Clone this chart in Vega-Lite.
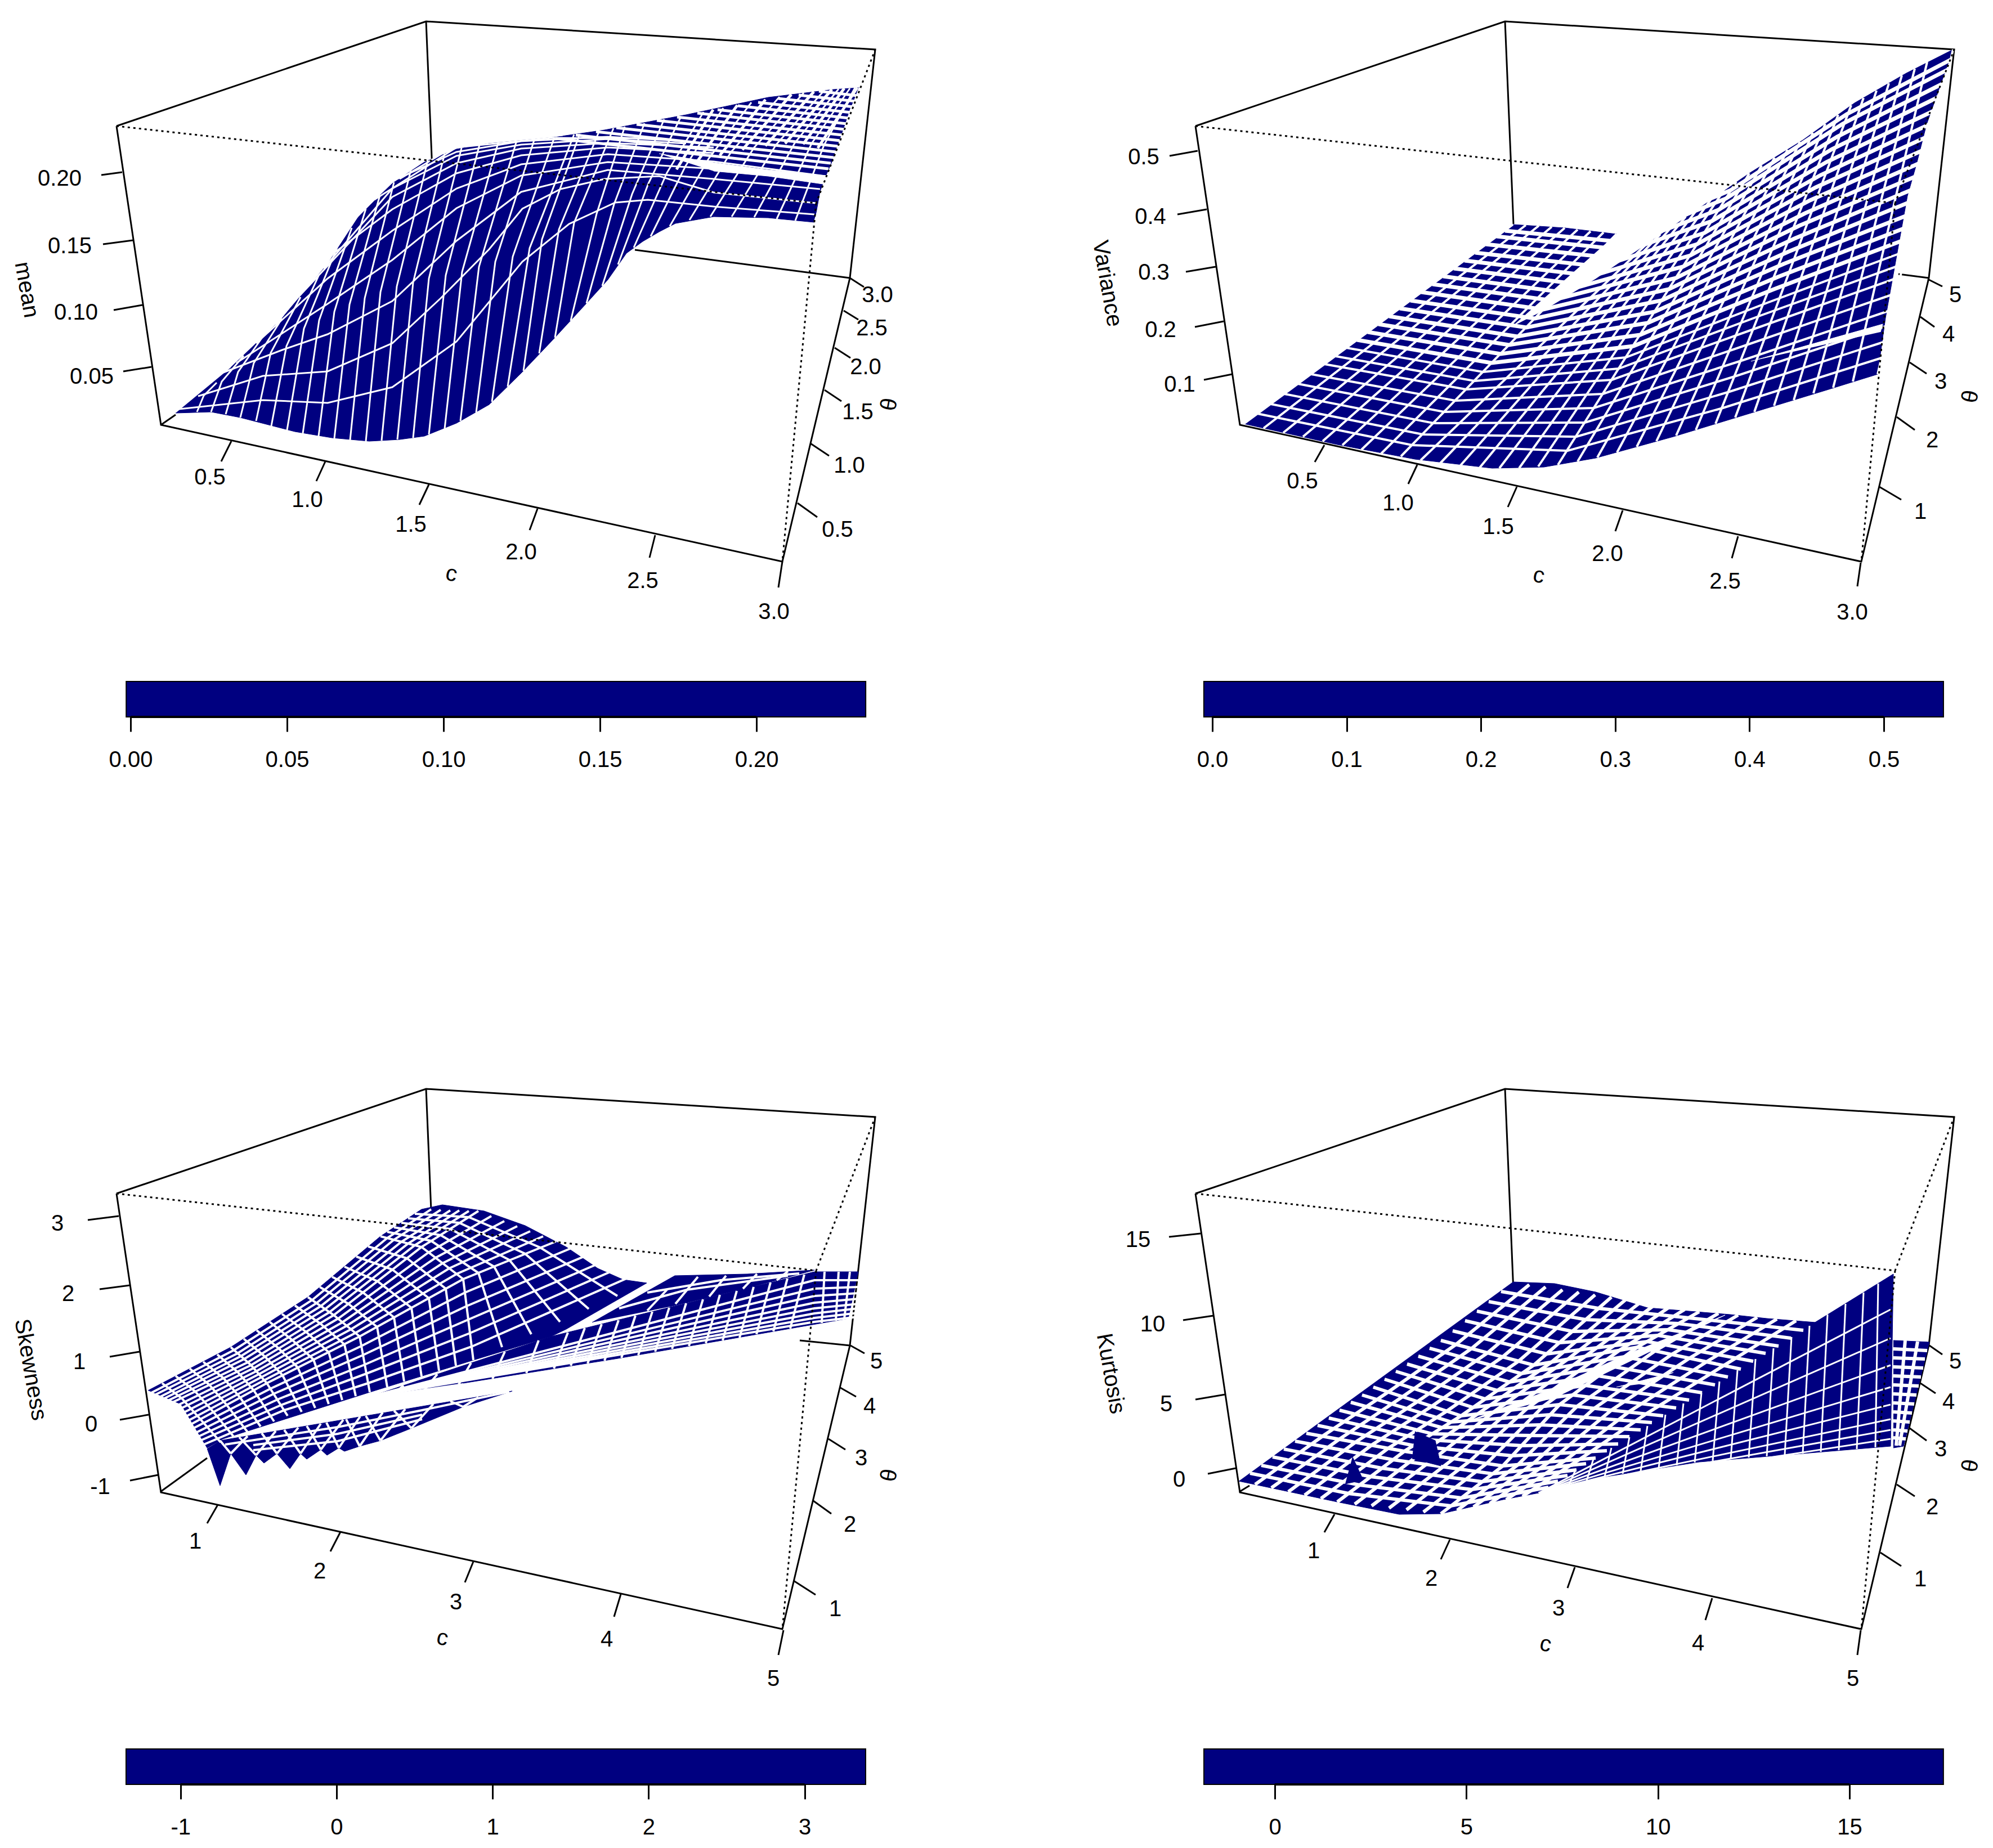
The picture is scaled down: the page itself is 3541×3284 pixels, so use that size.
{"$schema":"https://vega.github.io/schema/vega-lite/v6.json","padding":0,"background":"white","spacing":527,"config":{"view":{"stroke":null},"text":{"font":"Liberation Sans","fontSize":40,"color":"black"},"axis":{"labelFont":"Liberation Sans","labelFontSize":40,"labelColor":"black","domain":false,"grid":false,"tickColor":"black","tickWidth":3,"tickSize":26,"labelPadding":30,"title":null},"concat":{"spacing":0}},
"datasets":{
"box":[{"g":1,"x":207,"y":224},{"g":1,"x":757,"y":38},{"g":1,"x":1555,"y":88},{"g":1,"x":1510,"y":494},{"g":1,"x":1390,"y":998},{"g":1,"x":286,"y":755},{"g":1,"x":207,"y":224},{"g":2,"x":757,"y":38},{"g":2,"x":772,"y":398}],
"dot":[{"g":1,"x":207,"y":224},{"g":1,"x":1450,"y":361},{"g":1,"x":1555,"y":88},{"g":2,"x":1450,"y":361},{"g":2,"x":1390,"y":998}],
"s1":[{"g":1,"x":312,"y":734},{"g":1,"x":375,"y":732},{"g":1,"x":427,"y":742},{"g":1,"x":524,"y":767},{"g":1,"x":590,"y":778},{"g":1,"x":656,"y":784},{"g":1,"x":710,"y":781},{"g":1,"x":754,"y":775},{"g":1,"x":811,"y":752},{"g":1,"x":869,"y":719},{"g":1,"x":926,"y":663},{"g":1,"x":983,"y":603},{"g":1,"x":1041,"y":540},{"g":1,"x":1080,"y":497},{"g":1,"x":1113,"y":450},{"g":1,"x":1142,"y":429},{"g":1,"x":1171,"y":412},{"g":1,"x":1200,"y":397},{"g":1,"x":1268,"y":385},{"g":1,"x":1365,"y":387},{"g":1,"x":1447,"y":395},{"g":1,"x":1457,"y":340},{"g":1,"x":1467,"y":313},{"g":1,"x":1486,"y":269},{"g":1,"x":1510,"y":193},{"g":1,"x":1527,"y":156},{"g":1,"x":1481,"y":159},{"g":1,"x":1365,"y":173},{"g":1,"x":1219,"y":204},{"g":1,"x":1074,"y":231},{"g":1,"x":984,"y":244},{"g":1,"x":869,"y":255},{"g":1,"x":811,"y":265},{"g":1,"x":754,"y":288},{"g":1,"x":697,"y":326},{"g":1,"x":639,"y":382},{"g":1,"x":582,"y":469},{"g":1,"x":496,"y":571},{"g":1,"x":410,"y":653}],
"g1":[{"g":1,"x":1171,"y":273},{"g":1,"x":1268,"y":289},{"g":1,"x":1365,"y":302},{"g":1,"x":1476,"y":313},{"g":1,"x":1462,"y":327},{"g":1,"x":1365,"y":313},{"g":1,"x":1268,"y":304}],
"m1":[{"g":1,"x":350,"y":732},{"g":1,"x":362,"y":703},{"g":1,"x":385,"y":680},{"g":2,"x":375,"y":732},{"g":2,"x":394,"y":678},{"g":2,"x":433,"y":632},{"g":3,"x":401,"y":736},{"g":3,"x":423,"y":661},{"g":3,"x":467,"y":598},{"g":4,"x":427,"y":742},{"g":4,"x":451,"y":645},{"g":4,"x":501,"y":566},{"g":5,"x":455,"y":748},{"g":5,"x":481,"y":627},{"g":5,"x":534,"y":528},{"g":6,"x":482,"y":757},{"g":6,"x":509,"y":615},{"g":6,"x":566,"y":490},{"g":7,"x":510,"y":764},{"g":7,"x":540,"y":584},{"g":7,"x":600,"y":437},{"g":8,"x":538,"y":770},{"g":8,"x":567,"y":569},{"g":8,"x":625,"y":405},{"g":9,"x":566,"y":775},{"g":9,"x":594,"y":554},{"g":9,"x":650,"y":371},{"g":10,"x":594,"y":779},{"g":10,"x":621,"y":541},{"g":10,"x":675,"y":347},{"g":11,"x":622,"y":782},{"g":11,"x":648,"y":530},{"g":11,"x":700,"y":324},{"g":12,"x":650,"y":784},{"g":12,"x":676,"y":519},{"g":12,"x":730,"y":302},{"g":13,"x":678,"y":783},{"g":13,"x":705,"y":509},{"g":13,"x":760,"y":285},{"g":14,"x":706,"y":781},{"g":14,"x":734,"y":502},{"g":14,"x":790,"y":273},{"g":15,"x":734,"y":778},{"g":15,"x":762,"y":495},{"g":15,"x":820,"y":263},{"g":16,"x":762,"y":772},{"g":16,"x":792,"y":489},{"g":16,"x":852,"y":257},{"g":17,"x":790,"y":762},{"g":17,"x":821,"y":483},{"g":17,"x":885,"y":254},{"g":18,"x":818,"y":748},{"g":18,"x":851,"y":474},{"g":18,"x":918,"y":250},{"g":19,"x":846,"y":733},{"g":19,"x":880,"y":465},{"g":19,"x":950,"y":246},{"g":20,"x":874,"y":714},{"g":20,"x":911,"y":456},{"g":20,"x":985,"y":244},{"g":21,"x":902,"y":687},{"g":21,"x":941,"y":441},{"g":21,"x":1020,"y":239},{"g":22,"x":930,"y":659},{"g":22,"x":963,"y":425},{"g":22,"x":1030,"y":238},{"g":23,"x":958,"y":628},{"g":23,"x":993,"y":408},{"g":23,"x":1065,"y":232},{"g":24,"x":986,"y":600},{"g":24,"x":1020,"y":396},{"g":24,"x":1090,"y":228},{"g":25,"x":1014,"y":570},{"g":25,"x":1060,"y":380},{"g":25,"x":1110,"y":225},{"g":26,"x":1042,"y":539},{"g":26,"x":1091,"y":363},{"g":26,"x":1145,"y":219},{"g":27,"x":1070,"y":508},{"g":27,"x":1123,"y":345},{"g":27,"x":1180,"y":212},{"g":28,"x":1098,"y":470},{"g":28,"x":1152,"y":326},{"g":28,"x":1210,"y":207},{"g":29,"x":1126,"y":440},{"g":29,"x":1185,"y":307},{"g":29,"x":1250,"y":199},{"g":30,"x":1156,"y":420},{"g":30,"x":1218,"y":295},{"g":30,"x":1285,"y":192},{"g":31,"x":1190,"y":402},{"g":31,"x":1259,"y":282},{"g":31,"x":1335,"y":182},{"g":32,"x":1225,"y":391},{"g":32,"x":1299,"y":270},{"g":32,"x":1385,"y":172},{"g":33,"x":1262,"y":385},{"g":33,"x":1340,"y":262},{"g":33,"x":1428,"y":165},{"g":34,"x":1300,"y":385},{"g":34,"x":1379,"y":257},{"g":34,"x":1465,"y":160},{"g":35,"x":1340,"y":386},{"g":35,"x":1412,"y":254},{"g":35,"x":1490,"y":158},{"g":36,"x":1380,"y":389},{"g":36,"x":1442,"y":255},{"g":36,"x":1510,"y":157},{"g":37,"x":1413,"y":392},{"g":37,"x":1464,"y":258},{"g":37,"x":1519,"y":156},{"g":38,"x":1447,"y":395},{"g":38,"x":1486,"y":269},{"g":38,"x":1527,"y":156},
{"g":41,"x":1202,"y":301},{"g":41,"x":1267,"y":195},{"g":42,"x":1238,"y":288},{"g":42,"x":1310,"y":187},{"g":43,"x":1279,"y":276},{"g":43,"x":1360,"y":177},{"g":44,"x":1319,"y":266},{"g":44,"x":1406,"y":168},{"g":45,"x":1360,"y":259},{"g":45,"x":1446,"y":163},{"g":46,"x":1395,"y":255},{"g":46,"x":1478,"y":159},{"g":47,"x":1427,"y":256},{"g":47,"x":1500,"y":157},{"g":48,"x":1453,"y":263},{"g":48,"x":1523,"y":156},
{"g":51,"x":318,"y":727},{"g":51,"x":467,"y":711},{"g":51,"x":582,"y":716},{"g":51,"x":697,"y":688},{"g":51,"x":811,"y":607},{"g":51,"x":928,"y":465},{"g":51,"x":1011,"y":398},{"g":51,"x":1093,"y":360},{"g":51,"x":1151,"y":355},{"g":51,"x":1268,"y":367},{"g":51,"x":1447,"y":381},
{"g":52,"x":352,"y":704},{"g":52,"x":467,"y":668},{"g":52,"x":582,"y":660},{"g":52,"x":697,"y":610},{"g":52,"x":783,"y":530},{"g":52,"x":869,"y":443},{"g":52,"x":928,"y":371},{"g":52,"x":996,"y":336},{"g":52,"x":1074,"y":318},{"g":52,"x":1171,"y":313},{"g":52,"x":1268,"y":342},{"g":52,"x":1450,"y":361},
{"g":53,"x":381,"y":668},{"g":53,"x":501,"y":622},{"g":53,"x":582,"y":594},{"g":53,"x":697,"y":535},{"g":53,"x":811,"y":428},{"g":53,"x":926,"y":341},{"g":53,"x":1080,"y":302},{"g":53,"x":1268,"y":318},{"g":53,"x":1457,"y":336},
{"g":54,"x":420,"y":645},{"g":54,"x":582,"y":540},{"g":54,"x":697,"y":462},{"g":54,"x":811,"y":370},{"g":54,"x":926,"y":312},{"g":54,"x":1080,"y":288},{"g":54,"x":1268,"y":300},{"g":54,"x":1462,"y":322},
{"g":55,"x":455,"y":610},{"g":55,"x":582,"y":495},{"g":55,"x":697,"y":410},{"g":55,"x":811,"y":335},{"g":55,"x":926,"y":292},{"g":55,"x":1080,"y":274},{"g":55,"x":1268,"y":287},{"g":55,"x":1467,"y":313},
{"g":56,"x":490,"y":577},{"g":56,"x":582,"y":458},{"g":56,"x":697,"y":372},{"g":56,"x":811,"y":308},{"g":56,"x":926,"y":276},{"g":56,"x":1080,"y":262},{"g":56,"x":1268,"y":272},
{"g":57,"x":530,"y":528},{"g":57,"x":697,"y":350},{"g":57,"x":811,"y":290},{"g":57,"x":926,"y":264},{"g":57,"x":1080,"y":254},{"g":57,"x":1268,"y":262},
{"g":58,"x":575,"y":477},{"g":58,"x":697,"y":335},{"g":58,"x":811,"y":277},{"g":58,"x":926,"y":257},{"g":58,"x":1080,"y":247},{"g":58,"x":1219,"y":255},
{"g":59,"x":620,"y":400},{"g":59,"x":697,"y":322},{"g":59,"x":811,"y":270},{"g":59,"x":926,"y":251},{"g":59,"x":1080,"y":243},{"g":59,"x":1219,"y":251},
{"g":60,"x":665,"y":355},{"g":60,"x":811,"y":262},{"g":60,"x":980,"y":245},{"g":60,"x":1150,"y":246},
{"g":61,"x":710,"y":318},{"g":61,"x":811,"y":258},{"g":61,"x":1000,"y":240},
{"g":71,"x":987,"y":246},{"g":71,"x":1472,"y":300},{"g":72,"x":1023,"y":240},{"g":72,"x":1476,"y":290},{"g":73,"x":1059,"y":234},{"g":73,"x":1481,"y":280},{"g":74,"x":1095,"y":227},{"g":74,"x":1485,"y":270},{"g":75,"x":1131,"y":221},{"g":75,"x":1489,"y":260},{"g":76,"x":1167,"y":214},{"g":76,"x":1493,"y":250},{"g":77,"x":1203,"y":208},{"g":77,"x":1497,"y":240},{"g":78,"x":1239,"y":201},{"g":78,"x":1501,"y":230},{"g":79,"x":1275,"y":195},{"g":79,"x":1505,"y":220},{"g":80,"x":1311,"y":188},{"g":80,"x":1509,"y":210},{"g":81,"x":1347,"y":182},{"g":81,"x":1513,"y":200},{"g":82,"x":1383,"y":175},{"g":82,"x":1517,"y":190},{"g":83,"x":1419,"y":169},{"g":83,"x":1520,"y":180},{"g":84,"x":1455,"y":162},{"g":84,"x":1523,"y":170}],
"t1":[{"g":1,"x":286,"y":755},{"g":1,"x":312,"y":737},{"g":2,"x":1128,"y":444},{"g":2,"x":1510,"y":494},{"g":3,"x":217,"y":306},{"g":3,"x":180,"y":311},{"g":4,"x":236,"y":427},{"g":4,"x":183,"y":434},{"g":5,"x":253,"y":542},{"g":5,"x":202,"y":551},{"g":6,"x":269,"y":652},{"g":6,"x":219,"y":660},{"g":7,"x":411,"y":784},{"g":7,"x":393,"y":820},{"g":8,"x":578,"y":820},{"g":8,"x":562,"y":855},{"g":9,"x":762,"y":861},{"g":9,"x":745,"y":897},{"g":10,"x":955,"y":904},{"g":10,"x":941,"y":942},{"g":11,"x":1164,"y":951},{"g":11,"x":1154,"y":991},{"g":12,"x":1390,"y":998},{"g":12,"x":1383,"y":1044},{"g":13,"x":1510,"y":494},{"g":13,"x":1535,"y":510},{"g":14,"x":1499,"y":552},{"g":14,"x":1525,"y":568},{"g":15,"x":1483,"y":618},{"g":15,"x":1511,"y":636},{"g":16,"x":1465,"y":693},{"g":16,"x":1495,"y":713},{"g":17,"x":1440,"y":788},{"g":17,"x":1473,"y":810},{"g":18,"x":1417,"y":894},{"g":18,"x":1452,"y":919}],
"l1":[{"x":106,"y":318,"t":"0.20"},{"x":124,"y":438,"t":"0.15"},{"x":135,"y":556,"t":"0.10"},{"x":163,"y":670,"t":"0.05"},{"x":373,"y":849,"t":"0.5"},{"x":546,"y":889,"t":"1.0"},{"x":730,"y":933,"t":"1.5"},{"x":926,"y":982,"t":"2.0"},{"x":1142,"y":1033,"t":"2.5"},{"x":1375,"y":1088,"t":"3.0"},{"x":1559,"y":525,"t":"3.0"},{"x":1549,"y":584,"t":"2.5"},{"x":1538,"y":653,"t":"2.0"},{"x":1524,"y":733,"t":"1.5"},{"x":1509,"y":828,"t":"1.0"},{"x":1488,"y":942,"t":"0.5"}],
"n1":[{"x":47,"y":515,"t":"mean","a":80},{"x":802,"y":1020,"t":"c","a":12},{"x":1576,"y":718,"t":"θ","a":100}],
"s2":[{"g":1,"x":293,"y":753},{"g":1,"x":459,"y":790},{"g":1,"x":597,"y":816},{"g":1,"x":734,"y":832},{"g":1,"x":826,"y":830},{"g":1,"x":918,"y":814},{"g":1,"x":1056,"y":776},{"g":1,"x":1194,"y":734},{"g":1,"x":1332,"y":692},{"g":1,"x":1419,"y":665},{"g":1,"x":1433,"y":565},{"g":1,"x":1472,"y":348},{"g":1,"x":1488,"y":292},{"g":1,"x":1506,"y":221},{"g":1,"x":1553,"y":88},{"g":1,"x":1470,"y":130},{"g":1,"x":1378,"y":183},{"g":1,"x":1286,"y":249},{"g":1,"x":1194,"y":306},{"g":1,"x":1102,"y":369},{"g":1,"x":1010,"y":432},{"g":1,"x":955,"y":416},{"g":1,"x":863,"y":405},{"g":1,"x":771,"y":399}],
"g2":[{"g":1,"x":771,"y":579},{"g":1,"x":826,"y":551},{"g":1,"x":918,"y":495},{"g":1,"x":1010,"y":432},{"g":1,"x":1102,"y":369},{"g":1,"x":1168,"y":323},{"g":1,"x":1158,"y":325},{"g":1,"x":955,"y":416},{"g":2,"x":1194,"y":642},{"g":2,"x":1428,"y":576},{"g":2,"x":1424,"y":590}],
"m2":[{"g":1,"x":293,"y":753},{"g":1,"x":771,"y":399},{"g":2,"x":328,"y":761},{"g":2,"x":794,"y":400},{"g":3,"x":363,"y":769},{"g":3,"x":817,"y":401},{"g":4,"x":398,"y":776},{"g":4,"x":840,"y":403},{"g":5,"x":433,"y":784},{"g":5,"x":863,"y":405},{"g":6,"x":468,"y":791},{"g":6,"x":886,"y":408},{"g":7,"x":502,"y":799},{"g":7,"x":909,"y":411},{"g":8,"x":537,"y":806},{"g":8,"x":932,"y":413},{"g":9,"x":572,"y":811},{"g":9,"x":955,"y":416},{"g":10,"x":607,"y":818},{"g":10,"x":1010,"y":432},{"g":11,"x":642,"y":823},{"g":11,"x":1033,"y":416},{"g":12,"x":677,"y":828},{"g":12,"x":1055,"y":401},{"g":13,"x":712,"y":831},{"g":13,"x":1078,"y":385},{"g":14,"x":747,"y":832},{"g":14,"x":1100,"y":370},{"g":15,"x":782,"y":832},{"g":15,"x":1123,"y":354},{"g":16,"x":816,"y":829},{"g":16,"x":1146,"y":338},{"g":17,"x":851,"y":826},{"g":17,"x":1168,"y":323},{"g":18,"x":886,"y":820},{"g":18,"x":1191,"y":308},{"g":19,"x":921,"y":813},{"g":19,"x":1213,"y":294},{"g":20,"x":956,"y":804},{"g":20,"x":1236,"y":280},{"g":21,"x":991,"y":794},{"g":21,"x":1259,"y":266},{"g":22,"x":1026,"y":784},{"g":22,"x":1281,"y":252},{"g":23,"x":1061,"y":774},{"g":23,"x":1304,"y":236},{"g":24,"x":1096,"y":764},{"g":24,"x":1326,"y":220},{"g":25,"x":1131,"y":753},{"g":25,"x":1349,"y":204},{"g":26,"x":1166,"y":742},{"g":26,"x":1372,"y":187},{"g":27,"x":1200,"y":732},{"g":27,"x":1394,"y":174},{"g":28,"x":1235,"y":721},{"g":28,"x":1417,"y":161},{"g":29,"x":1270,"y":711},{"g":29,"x":1439,"y":148},{"g":30,"x":1305,"y":699},{"g":30,"x":1462,"y":134},{"g":31,"x":1340,"y":689},{"g":31,"x":1485,"y":122},{"g":32,"x":1375,"y":678},{"g":32,"x":1507,"y":110},{"g":33,"x":1419,"y":665},{"g":33,"x":1553,"y":88},
{"g":101,"x":317,"y":735},{"g":101,"x":592,"y":791},{"g":101,"x":868,"y":801},{"g":101,"x":1144,"y":725},{"g":101,"x":1426,"y":636},{"g":102,"x":341,"y":718},{"g":102,"x":611,"y":772},{"g":102,"x":884,"y":776},{"g":102,"x":1156,"y":696},{"g":102,"x":1432,"y":607},{"g":103,"x":365,"y":700},{"g":103,"x":630,"y":752},{"g":103,"x":899,"y":751},{"g":103,"x":1168,"y":668},{"g":103,"x":1439,"y":578},{"g":104,"x":389,"y":682},{"g":104,"x":649,"y":732},{"g":104,"x":915,"y":725},{"g":104,"x":1180,"y":640},{"g":104,"x":1446,"y":550},{"g":105,"x":413,"y":665},{"g":105,"x":669,"y":712},{"g":105,"x":931,"y":700},{"g":105,"x":1192,"y":611},{"g":105,"x":1452,"y":521},{"g":106,"x":436,"y":647},{"g":106,"x":688,"y":692},{"g":106,"x":947,"y":675},{"g":106,"x":1204,"y":583},{"g":106,"x":1459,"y":492},{"g":107,"x":456,"y":633},{"g":107,"x":703,"y":677},{"g":107,"x":959,"y":655},{"g":107,"x":1213,"y":560},{"g":107,"x":1465,"y":469},{"g":108,"x":475,"y":618},{"g":108,"x":718,"y":661},{"g":108,"x":972,"y":635},{"g":108,"x":1223,"y":538},{"g":108,"x":1470,"y":446},{"g":109,"x":494,"y":604},{"g":109,"x":733,"y":645},{"g":109,"x":985,"y":615},{"g":109,"x":1232,"y":515},{"g":109,"x":1475,"y":423},{"g":110,"x":513,"y":590},{"g":110,"x":749,"y":629},{"g":110,"x":997,"y":595},{"g":110,"x":1242,"y":492},{"g":110,"x":1481,"y":400},{"g":111,"x":532,"y":576},{"g":111,"x":764,"y":613},{"g":111,"x":1010,"y":574},{"g":111,"x":1252,"y":469},{"g":111,"x":1486,"y":377},{"g":112,"x":551,"y":562},{"g":112,"x":779,"y":598},{"g":112,"x":1023,"y":554},{"g":112,"x":1261,"y":447},{"g":112,"x":1491,"y":353},{"g":113,"x":570,"y":548},{"g":113,"x":795,"y":582},{"g":113,"x":1035,"y":534},{"g":113,"x":1271,"y":424},{"g":113,"x":1497,"y":330},{"g":114,"x":589,"y":534},{"g":114,"x":810,"y":566},{"g":114,"x":1048,"y":514},{"g":114,"x":1280,"y":401},{"g":114,"x":1502,"y":307},{"g":115,"x":608,"y":519},{"g":115,"x":825,"y":550},{"g":115,"x":1061,"y":494},{"g":115,"x":1290,"y":379},{"g":115,"x":1507,"y":284},{"g":116,"x":628,"y":505},{"g":116,"x":840,"y":534},{"g":116,"x":1073,"y":474},{"g":116,"x":1299,"y":356},{"g":116,"x":1513,"y":261},{"g":117,"x":647,"y":491},{"g":117,"x":856,"y":519},{"g":117,"x":1086,"y":454},{"g":117,"x":1309,"y":333},{"g":117,"x":1518,"y":238},{"g":118,"x":666,"y":477},{"g":118,"x":871,"y":503},{"g":118,"x":1098,"y":434},{"g":118,"x":1318,"y":311},{"g":118,"x":1524,"y":215},{"g":119,"x":685,"y":463},{"g":119,"x":886,"y":487},{"g":119,"x":1111,"y":414},{"g":119,"x":1328,"y":288},{"g":119,"x":1529,"y":192},{"g":120,"x":704,"y":449},{"g":120,"x":901,"y":471},{"g":120,"x":1124,"y":393},{"g":120,"x":1338,"y":265},{"g":120,"x":1534,"y":169},{"g":121,"x":723,"y":434},{"g":121,"x":917,"y":455},{"g":121,"x":1136,"y":373},{"g":121,"x":1347,"y":243},{"g":121,"x":1540,"y":146},{"g":122,"x":742,"y":420},{"g":122,"x":932,"y":440},{"g":122,"x":1149,"y":353},{"g":122,"x":1357,"y":220},{"g":122,"x":1545,"y":123},{"g":123,"x":757,"y":410},{"g":123,"x":944,"y":428},{"g":123,"x":1158,"y":338},{"g":123,"x":1364,"y":203},{"g":123,"x":1549,"y":106}],
"t2":[{"g":1,"x":1456,"y":487},{"g":1,"x":1510,"y":494},{"g":2,"x":211,"y":268},{"g":2,"x":161,"y":277},{"g":3,"x":227,"y":372},{"g":3,"x":175,"y":381},{"g":4,"x":243,"y":474},{"g":4,"x":190,"y":483},{"g":5,"x":257,"y":571},{"g":5,"x":206,"y":581},{"g":6,"x":272,"y":665},{"g":6,"x":222,"y":675},{"g":7,"x":436,"y":791},{"g":7,"x":419,"y":821},{"g":8,"x":601,"y":826},{"g":8,"x":585,"y":860},{"g":9,"x":778,"y":865},{"g":9,"x":762,"y":901},{"g":10,"x":966,"y":907},{"g":10,"x":953,"y":944},{"g":11,"x":1171,"y":953},{"g":11,"x":1160,"y":992},{"g":12,"x":1389,"y":1000},{"g":12,"x":1383,"y":1042},{"g":13,"x":1508,"y":496},{"g":13,"x":1534,"y":509},{"g":14,"x":1495,"y":563},{"g":14,"x":1520,"y":581},{"g":15,"x":1476,"y":644},{"g":15,"x":1506,"y":664},{"g":16,"x":1453,"y":741},{"g":16,"x":1485,"y":764},{"g":17,"x":1422,"y":865},{"g":17,"x":1461,"y":888}],
"l2":[{"x":115,"y":280,"t":"0.5"},{"x":127,"y":386,"t":"0.4"},{"x":133,"y":485,"t":"0.3"},{"x":145,"y":587,"t":"0.2"},{"x":179,"y":684,"t":"0.1"},{"x":397,"y":856,"t":"0.5"},{"x":567,"y":895,"t":"1.0"},{"x":745,"y":937,"t":"1.5"},{"x":939,"y":985,"t":"2.0"},{"x":1148,"y":1034,"t":"2.5"},{"x":1374,"y":1089,"t":"3.0"},{"x":1557,"y":525,"t":"5"},{"x":1545,"y":595,"t":"4"},{"x":1531,"y":679,"t":"3"},{"x":1516,"y":783,"t":"2"},{"x":1495,"y":910,"t":"1"}],
"n2":[{"x":50,"y":504,"t":"Variance","a":80},{"x":817,"y":1023,"t":"c","a":12},{"x":1580,"y":704,"t":"θ","a":100}],
"s3":[{"g":1,"x":263,"y":574},{"g":1,"x":410,"y":497},{"g":1,"x":547,"y":408},{"g":1,"x":676,"y":300},{"g":1,"x":749,"y":252},{"g":1,"x":786,"y":244},{"g":1,"x":860,"y":255},{"g":1,"x":933,"y":281},{"g":1,"x":1006,"y":319},{"g":1,"x":1062,"y":357},{"g":1,"x":1107,"y":377},{"g":1,"x":1149,"y":383},{"g":1,"x":1006,"y":465},{"g":1,"x":979,"y":478},{"g":1,"x":841,"y":520},{"g":1,"x":657,"y":577},{"g":1,"x":396,"y":660},{"g":1,"x":368,"y":676},{"g":1,"x":322,"y":599},
{"g":2,"x":368,"y":677},{"g":2,"x":391,"y":743},{"g":2,"x":410,"y":686},{"g":2,"x":437,"y":724},{"g":2,"x":455,"y":689},{"g":2,"x":469,"y":703},{"g":2,"x":492,"y":686},{"g":2,"x":515,"y":713},{"g":2,"x":534,"y":686},{"g":2,"x":545,"y":696},{"g":2,"x":570,"y":679},{"g":2,"x":581,"y":689},{"g":2,"x":602,"y":676},{"g":2,"x":612,"y":682},{"g":2,"x":639,"y":673},{"g":2,"x":676,"y":663},{"g":2,"x":731,"y":641},{"g":2,"x":823,"y":603},{"g":2,"x":910,"y":575},{"g":2,"x":391,"y":663},
{"g":3,"x":657,"y":585},{"g":3,"x":979,"y":478},{"g":3,"x":1447,"y":363},{"g":3,"x":1525,"y":363},{"g":3,"x":1507,"y":446},{"g":3,"x":1438,"y":458},{"g":3,"x":1098,"y":517},{"g":3,"x":823,"y":561},
{"g":4,"x":1052,"y":453},{"g":4,"x":1098,"y":427},{"g":4,"x":1199,"y":370},{"g":4,"x":1328,"y":367},{"g":4,"x":1447,"y":360},{"g":4,"x":1328,"y":392},{"g":4,"x":1190,"y":425}],
"m3":[{"g":1,"x":288,"y":561},{"g":1,"x":323,"y":588},{"g":1,"x":356,"y":625},{"g":1,"x":392,"y":666},{"g":2,"x":312,"y":548},{"g":2,"x":347,"y":576},{"g":2,"x":379,"y":612},{"g":2,"x":416,"y":657},{"g":3,"x":337,"y":535},{"g":3,"x":372,"y":564},{"g":3,"x":403,"y":600},{"g":3,"x":440,"y":648},{"g":4,"x":361,"y":523},{"g":4,"x":397,"y":552},{"g":4,"x":427,"y":587},{"g":4,"x":463,"y":638},{"g":5,"x":386,"y":510},{"g":5,"x":422,"y":541},{"g":5,"x":451,"y":574},{"g":5,"x":487,"y":629},{"g":6,"x":410,"y":497},{"g":6,"x":446,"y":529},{"g":6,"x":474,"y":561},{"g":6,"x":511,"y":619},{"g":7,"x":433,"y":482},{"g":7,"x":471,"y":514},{"g":7,"x":502,"y":547},{"g":7,"x":536,"y":612},{"g":8,"x":456,"y":467},{"g":8,"x":495,"y":499},{"g":8,"x":529,"y":533},{"g":8,"x":560,"y":605},{"g":9,"x":479,"y":452},{"g":9,"x":520,"y":485},{"g":9,"x":557,"y":519},{"g":9,"x":584,"y":598},{"g":10,"x":501,"y":438},{"g":10,"x":544,"y":470},{"g":10,"x":584,"y":506},{"g":10,"x":608,"y":591},{"g":11,"x":524,"y":423},{"g":11,"x":569,"y":455},{"g":11,"x":612,"y":492},{"g":11,"x":632,"y":584},{"g":12,"x":547,"y":408},{"g":12,"x":593,"y":440},{"g":12,"x":639,"y":478},{"g":12,"x":657,"y":577},{"g":13,"x":568,"y":390},{"g":13,"x":619,"y":420},{"g":13,"x":670,"y":461},{"g":13,"x":688,"y":568},{"g":14,"x":590,"y":372},{"g":14,"x":645,"y":400},{"g":14,"x":700,"y":444},{"g":14,"x":718,"y":558},{"g":15,"x":612,"y":354},{"g":15,"x":671,"y":380},{"g":15,"x":731,"y":427},{"g":15,"x":749,"y":549},{"g":16,"x":633,"y":336},{"g":16,"x":697,"y":359},{"g":16,"x":762,"y":410},{"g":16,"x":780,"y":539},{"g":17,"x":654,"y":318},{"g":17,"x":723,"y":339},{"g":17,"x":792,"y":393},{"g":17,"x":810,"y":530},{"g":18,"x":676,"y":300},{"g":18,"x":749,"y":319},{"g":18,"x":823,"y":376},{"g":18,"x":841,"y":520},{"g":19,"x":688,"y":292},{"g":19,"x":766,"y":308},{"g":19,"x":850,"y":365},{"g":19,"x":892,"y":497},{"g":20,"x":700,"y":284},{"g":20,"x":783,"y":298},{"g":20,"x":878,"y":354},{"g":20,"x":944,"y":474},{"g":21,"x":713,"y":276},{"g":21,"x":800,"y":287},{"g":21,"x":905,"y":342},{"g":21,"x":995,"y":452},{"g":22,"x":725,"y":268},{"g":22,"x":816,"y":276},{"g":22,"x":933,"y":331},{"g":22,"x":1046,"y":429},{"g":23,"x":737,"y":260},{"g":23,"x":833,"y":266},{"g":23,"x":960,"y":320},{"g":23,"x":1097,"y":406},
{"g":31,"x":269,"y":578},{"g":31,"x":416,"y":502},{"g":31,"x":555,"y":413},{"g":31,"x":688,"y":303},{"g":31,"x":766,"y":252},{"g":32,"x":275,"y":582},{"g":32,"x":422,"y":508},{"g":32,"x":562,"y":419},{"g":32,"x":700,"y":306},{"g":32,"x":783,"y":253},{"g":33,"x":281,"y":587},{"g":33,"x":428,"y":513},{"g":33,"x":570,"y":424},{"g":33,"x":713,"y":310},{"g":33,"x":800,"y":254},{"g":34,"x":286,"y":591},{"g":34,"x":434,"y":518},{"g":34,"x":578,"y":429},{"g":34,"x":725,"y":313},{"g":34,"x":816,"y":254},{"g":35,"x":292,"y":595},{"g":35,"x":440,"y":524},{"g":35,"x":585,"y":435},{"g":35,"x":737,"y":316},{"g":35,"x":833,"y":255},{"g":36,"x":298,"y":599},{"g":36,"x":446,"y":529},{"g":36,"x":593,"y":440},{"g":36,"x":749,"y":319},{"g":36,"x":850,"y":255},{"g":37,"x":304,"y":606},{"g":37,"x":451,"y":534},{"g":37,"x":601,"y":446},{"g":37,"x":761,"y":329},{"g":37,"x":873,"y":264},{"g":38,"x":309,"y":612},{"g":38,"x":455,"y":540},{"g":38,"x":608,"y":453},{"g":38,"x":774,"y":338},{"g":38,"x":896,"y":273},{"g":39,"x":315,"y":619},{"g":39,"x":460,"y":545},{"g":39,"x":616,"y":459},{"g":39,"x":786,"y":348},{"g":39,"x":919,"y":282},{"g":40,"x":321,"y":625},{"g":40,"x":465,"y":550},{"g":40,"x":624,"y":465},{"g":40,"x":798,"y":357},{"g":40,"x":942,"y":291},{"g":41,"x":326,"y":632},{"g":41,"x":469,"y":556},{"g":41,"x":631,"y":472},{"g":41,"x":811,"y":367},{"g":41,"x":965,"y":300},{"g":42,"x":332,"y":638},{"g":42,"x":474,"y":561},{"g":42,"x":639,"y":478},{"g":42,"x":823,"y":376},{"g":42,"x":988,"y":309},{"g":43,"x":338,"y":644},{"g":43,"x":480,"y":571},{"g":43,"x":642,"y":495},{"g":43,"x":826,"y":400},{"g":43,"x":1015,"y":321},{"g":44,"x":344,"y":651},{"g":44,"x":486,"y":580},{"g":44,"x":645,"y":511},{"g":44,"x":829,"y":424},{"g":44,"x":1042,"y":334},{"g":45,"x":350,"y":657},{"g":45,"x":493,"y":590},{"g":45,"x":648,"y":528},{"g":45,"x":832,"y":448},{"g":45,"x":1069,"y":346},{"g":46,"x":356,"y":663},{"g":46,"x":499,"y":600},{"g":46,"x":651,"y":544},{"g":46,"x":835,"y":472},{"g":46,"x":1096,"y":358},{"g":47,"x":362,"y":670},{"g":47,"x":505,"y":609},{"g":47,"x":654,"y":561},{"g":47,"x":838,"y":496},{"g":47,"x":1122,"y":371},
{"g":51,"x":400,"y":670},{"g":51,"x":600,"y":639},{"g":51,"x":750,"y":609},{"g":51,"x":905,"y":576},{"g":52,"x":450,"y":671},{"g":52,"x":600,"y":651},{"g":52,"x":750,"y":617},{"g":53,"x":450,"y":680},{"g":53,"x":600,"y":664},{"g":53,"x":750,"y":625},
{"g":61,"x":410,"y":686},{"g":61,"x":440,"y":655},{"g":62,"x":455,"y":689},{"g":62,"x":490,"y":646},{"g":63,"x":492,"y":686},{"g":63,"x":530,"y":640},{"g":64,"x":534,"y":686},{"g":64,"x":570,"y":633},{"g":65,"x":570,"y":679},{"g":65,"x":610,"y":626},{"g":66,"x":602,"y":676},{"g":66,"x":640,"y":620},{"g":67,"x":639,"y":673},{"g":67,"x":680,"y":613},{"g":68,"x":676,"y":663},{"g":68,"x":720,"y":607},{"g":69,"x":731,"y":641},{"g":69,"x":770,"y":598},{"g":70,"x":823,"y":603},{"g":70,"x":850,"y":586},{"g":71,"x":410,"y":686},{"g":71,"x":391,"y":663},{"g":72,"x":455,"y":689},{"g":72,"x":425,"y":657},{"g":73,"x":492,"y":686},{"g":73,"x":465,"y":650},{"g":74,"x":534,"y":686},{"g":74,"x":505,"y":644},{"g":75,"x":570,"y":679},{"g":75,"x":545,"y":637},{"g":76,"x":602,"y":676},{"g":76,"x":580,"y":631},{"g":77,"x":639,"y":673},{"g":77,"x":615,"y":625},{"g":78,"x":676,"y":663},{"g":78,"x":650,"y":619},{"g":79,"x":731,"y":641},{"g":79,"x":700,"y":610},{"g":80,"x":823,"y":603},{"g":80,"x":800,"y":593},
{"g":81,"x":657,"y":585},{"g":81,"x":1447,"y":378},{"g":81,"x":1525,"y":378},{"g":82,"x":657,"y":585},{"g":82,"x":1447,"y":393},{"g":82,"x":1525,"y":390},{"g":83,"x":657,"y":585},{"g":83,"x":1447,"y":406},{"g":83,"x":1525,"y":401},{"g":84,"x":657,"y":585},{"g":84,"x":1447,"y":418},{"g":84,"x":1525,"y":411},{"g":85,"x":657,"y":585},{"g":85,"x":1447,"y":428},{"g":85,"x":1525,"y":420},{"g":86,"x":657,"y":585},{"g":86,"x":1447,"y":437},{"g":86,"x":1525,"y":428},{"g":87,"x":657,"y":585},{"g":87,"x":1447,"y":445},{"g":87,"x":1525,"y":436},{"g":88,"x":657,"y":585},{"g":88,"x":1447,"y":452},{"g":88,"x":1525,"y":443},
{"g":91,"x":1009,"y":471},{"g":91,"x":984,"y":535},{"g":92,"x":1039,"y":463},{"g":92,"x":1014,"y":530},{"g":93,"x":1069,"y":456},{"g":93,"x":1044,"y":526},{"g":94,"x":1099,"y":449},{"g":94,"x":1074,"y":521},{"g":95,"x":1129,"y":441},{"g":95,"x":1104,"y":516},{"g":96,"x":1159,"y":434},{"g":96,"x":1134,"y":511},{"g":97,"x":1189,"y":427},{"g":97,"x":1164,"y":505},{"g":98,"x":1219,"y":419},{"g":98,"x":1194,"y":500},{"g":99,"x":1249,"y":412},{"g":99,"x":1224,"y":495},{"g":100,"x":1279,"y":404},{"g":100,"x":1254,"y":490},{"g":101,"x":1309,"y":397},{"g":101,"x":1284,"y":485},{"g":102,"x":1339,"y":390},{"g":102,"x":1314,"y":480},{"g":103,"x":1369,"y":382},{"g":103,"x":1344,"y":474},{"g":104,"x":1399,"y":375},{"g":104,"x":1374,"y":469},{"g":105,"x":1429,"y":368},{"g":105,"x":1404,"y":464},{"g":106,"x":717,"y":565},{"g":106,"x":700,"y":580},{"g":107,"x":777,"y":545},{"g":107,"x":755,"y":572},{"g":108,"x":837,"y":525},{"g":108,"x":815,"y":563},{"g":109,"x":897,"y":505},{"g":109,"x":875,"y":553},{"g":110,"x":957,"y":485},{"g":110,"x":935,"y":543},{"g":111,"x":1465,"y":363},{"g":111,"x":1460,"y":454},{"g":112,"x":1490,"y":363},{"g":112,"x":1485,"y":450},{"g":113,"x":1510,"y":363},{"g":113,"x":1500,"y":447},
{"g":121,"x":1100,"y":428},{"g":121,"x":1220,"y":395},{"g":121,"x":1400,"y":370},{"g":122,"x":1150,"y":400},{"g":122,"x":1280,"y":378},{"g":122,"x":1420,"y":366},{"g":123,"x":1150,"y":432},{"g":123,"x":1185,"y":395},{"g":124,"x":1200,"y":420},{"g":124,"x":1240,"y":372},{"g":125,"x":1260,"y":407},{"g":125,"x":1290,"y":370},{"g":126,"x":1320,"y":393},{"g":126,"x":1345,"y":367},{"g":127,"x":1380,"y":378},{"g":127,"x":1400,"y":362}],
"t3":[{"g":1,"x":285,"y":754},{"g":1,"x":368,"y":694},{"g":2,"x":1421,"y":485},{"g":2,"x":1510,"y":494},{"g":3,"x":211,"y":264},{"g":3,"x":156,"y":271},{"g":4,"x":231,"y":387},{"g":4,"x":177,"y":394},{"g":5,"x":248,"y":505},{"g":5,"x":195,"y":514},{"g":6,"x":264,"y":617},{"g":6,"x":213,"y":626},{"g":7,"x":281,"y":724},{"g":7,"x":231,"y":734},{"g":8,"x":387,"y":777},{"g":8,"x":368,"y":810},{"g":9,"x":605,"y":825},{"g":9,"x":587,"y":860},{"g":10,"x":841,"y":878},{"g":10,"x":826,"y":915},{"g":11,"x":1103,"y":936},{"g":11,"x":1091,"y":976},{"g":12,"x":1392,"y":1000},{"g":12,"x":1383,"y":1044},{"g":13,"x":1511,"y":494},{"g":13,"x":1536,"y":508},{"g":14,"x":1493,"y":569},{"g":14,"x":1521,"y":585},{"g":15,"x":1472,"y":660},{"g":15,"x":1502,"y":679},{"g":16,"x":1445,"y":770},{"g":16,"x":1477,"y":793},{"g":17,"x":1410,"y":912},{"g":17,"x":1449,"y":937}],
"l3":[{"x":102,"y":278,"t":"3"},{"x":121,"y":403,"t":"2"},{"x":141,"y":524,"t":"1"},{"x":162,"y":635,"t":"0"},{"x":178,"y":746,"t":"-1"},{"x":347,"y":843,"t":"1"},{"x":568,"y":896,"t":"2"},{"x":810,"y":951,"t":"3"},{"x":1078,"y":1017,"t":"4"},{"x":1374,"y":1087,"t":"5"},{"x":1557,"y":523,"t":"5"},{"x":1545,"y":603,"t":"4"},{"x":1530,"y":695,"t":"3"},{"x":1510,"y":813,"t":"2"},{"x":1484,"y":963,"t":"1"}],
"n3":[{"x":54,"y":537,"t":"Skewness","a":80},{"x":786,"y":1014,"t":"c","a":12},{"x":1576,"y":724,"t":"θ","a":100}],
"s4":[{"g":1,"x":284,"y":735},{"g":1,"x":459,"y":772},{"g":1,"x":569,"y":794},{"g":1,"x":643,"y":793},{"g":1,"x":753,"y":768},{"g":1,"x":817,"y":756},{"g":1,"x":1309,"y":453},{"g":1,"x":1222,"y":446},{"g":1,"x":1157,"y":439},{"g":1,"x":1010,"y":427},{"g":1,"x":918,"y":399},{"g":1,"x":845,"y":384},{"g":1,"x":771,"y":381},
{"g":2,"x":817,"y":756},{"g":2,"x":1447,"y":367},{"g":2,"x":1442,"y":673},{"g":2,"x":1286,"y":686},{"g":2,"x":1102,"y":701},{"g":2,"x":918,"y":730},
{"g":3,"x":1447,"y":485},{"g":3,"x":1511,"y":488},{"g":3,"x":1465,"y":673},{"g":3,"x":1447,"y":676}],
"g4":[{"g":1,"x":693,"y":628},{"g":1,"x":826,"y":577},{"g":1,"x":973,"y":510},{"g":1,"x":1148,"y":440},{"g":1,"x":983,"y":520},{"g":1,"x":845,"y":587},{"g":2,"x":955,"y":568},{"g":2,"x":1056,"y":542},{"g":2,"x":1010,"y":561}],
"d4":[{"g":1,"x":486,"y":692},{"g":1,"x":505,"y":733},{"g":1,"x":473,"y":740},{"g":2,"x":597,"y":647},{"g":2,"x":633,"y":663},{"g":2,"x":643,"y":708},{"g":2,"x":592,"y":695}],
"m4":[{"g":1,"x":304,"y":721},{"g":1,"x":479,"y":757},{"g":1,"x":661,"y":779},{"g":1,"x":834,"y":746},{"g":2,"x":324,"y":707},{"g":2,"x":499,"y":742},{"g":2,"x":680,"y":765},{"g":2,"x":851,"y":735},{"g":3,"x":344,"y":692},{"g":3,"x":518,"y":727},{"g":3,"x":698,"y":750},{"g":3,"x":868,"y":725},{"g":4,"x":364,"y":678},{"g":4,"x":538,"y":712},{"g":4,"x":716,"y":736},{"g":4,"x":884,"y":715},{"g":5,"x":384,"y":664},{"g":5,"x":558,"y":697},{"g":5,"x":735,"y":722},{"g":5,"x":901,"y":704},{"g":6,"x":404,"y":650},{"g":6,"x":578,"y":682},{"g":6,"x":753,"y":708},{"g":6,"x":918,"y":694},{"g":7,"x":424,"y":636},{"g":7,"x":595,"y":672},{"g":7,"x":770,"y":690},{"g":7,"x":938,"y":681},{"g":8,"x":444,"y":623},{"g":8,"x":612,"y":661},{"g":8,"x":787,"y":672},{"g":8,"x":958,"y":669},{"g":9,"x":463,"y":609},{"g":9,"x":628,"y":651},{"g":9,"x":804,"y":654},{"g":9,"x":978,"y":656},{"g":10,"x":483,"y":595},{"g":10,"x":645,"y":640},{"g":10,"x":820,"y":635},{"g":10,"x":998,"y":644},{"g":11,"x":503,"y":582},{"g":11,"x":662,"y":630},{"g":11,"x":837,"y":617},{"g":11,"x":1018,"y":631},{"g":12,"x":523,"y":568},{"g":12,"x":679,"y":619},{"g":12,"x":854,"y":599},{"g":12,"x":1038,"y":619},{"g":13,"x":543,"y":554},{"g":13,"x":700,"y":604},{"g":13,"x":877,"y":582},{"g":13,"x":1061,"y":605},{"g":14,"x":563,"y":540},{"g":14,"x":722,"y":589},{"g":14,"x":900,"y":565},{"g":14,"x":1084,"y":591},{"g":15,"x":583,"y":527},{"g":15,"x":743,"y":574},{"g":15,"x":923,"y":548},{"g":15,"x":1107,"y":578},{"g":16,"x":603,"y":513},{"g":16,"x":765,"y":559},{"g":16,"x":946,"y":531},{"g":16,"x":1130,"y":564},{"g":17,"x":623,"y":499},{"g":17,"x":786,"y":544},{"g":17,"x":969,"y":514},{"g":17,"x":1153,"y":550},{"g":18,"x":643,"y":485},{"g":18,"x":808,"y":529},{"g":18,"x":992,"y":497},{"g":18,"x":1176,"y":536},{"g":19,"x":664,"y":468},{"g":19,"x":831,"y":509},{"g":19,"x":1010,"y":487},{"g":19,"x":1198,"y":522},{"g":20,"x":686,"y":450},{"g":20,"x":854,"y":489},{"g":20,"x":1029,"y":476},{"g":20,"x":1220,"y":508},{"g":21,"x":707,"y":433},{"g":21,"x":877,"y":469},{"g":21,"x":1047,"y":466},{"g":21,"x":1243,"y":495},{"g":22,"x":728,"y":416},{"g":22,"x":900,"y":448},{"g":22,"x":1065,"y":455},{"g":22,"x":1265,"y":481},{"g":23,"x":750,"y":398},{"g":23,"x":923,"y":428},{"g":23,"x":1084,"y":445},{"g":23,"x":1287,"y":467},
{"g":31,"x":313,"y":741},{"g":31,"x":433,"y":655},{"g":31,"x":549,"y":577},{"g":31,"x":670,"y":492},{"g":31,"x":800,"y":386},{"g":32,"x":342,"y":747},{"g":32,"x":462,"y":661},{"g":32,"x":575,"y":585},{"g":32,"x":698,"y":499},{"g":32,"x":829,"y":390},{"g":33,"x":372,"y":754},{"g":33,"x":491,"y":666},{"g":33,"x":601,"y":594},{"g":33,"x":726,"y":507},{"g":33,"x":859,"y":395},{"g":34,"x":401,"y":760},{"g":34,"x":520,"y":671},{"g":34,"x":627,"y":602},{"g":34,"x":753,"y":514},{"g":34,"x":888,"y":399},{"g":35,"x":430,"y":766},{"g":35,"x":549,"y":677},{"g":35,"x":653,"y":611},{"g":35,"x":781,"y":522},{"g":35,"x":917,"y":404},{"g":36,"x":459,"y":772},{"g":36,"x":578,"y":682},{"g":36,"x":679,"y":619},{"g":36,"x":808,"y":529},{"g":36,"x":946,"y":408},{"g":37,"x":490,"y":776},{"g":37,"x":607,"y":686},{"g":37,"x":708,"y":616},{"g":37,"x":839,"y":524},{"g":37,"x":972,"y":412},{"g":38,"x":520,"y":779},{"g":38,"x":636,"y":691},{"g":38,"x":737,"y":612},{"g":38,"x":869,"y":518},{"g":38,"x":998,"y":417},{"g":39,"x":551,"y":783},{"g":39,"x":666,"y":695},{"g":39,"x":767,"y":609},{"g":39,"x":900,"y":513},{"g":39,"x":1024,"y":421},{"g":40,"x":582,"y":786},{"g":40,"x":695,"y":699},{"g":40,"x":796,"y":606},{"g":40,"x":931,"y":508},{"g":40,"x":1050,"y":425},{"g":41,"x":612,"y":790},{"g":41,"x":724,"y":704},{"g":41,"x":825,"y":602},{"g":41,"x":961,"y":502},{"g":41,"x":1076,"y":430},{"g":42,"x":643,"y":793},{"g":42,"x":753,"y":708},{"g":42,"x":854,"y":599},{"g":42,"x":992,"y":497},{"g":42,"x":1102,"y":434},{"g":43,"x":672,"y":787},{"g":43,"x":780,"y":706},{"g":43,"x":885,"y":602},{"g":43,"x":1023,"y":504},{"g":43,"x":1136,"y":437},{"g":44,"x":701,"y":781},{"g":44,"x":808,"y":703},{"g":44,"x":915,"y":606},{"g":44,"x":1053,"y":510},{"g":44,"x":1171,"y":440},{"g":45,"x":730,"y":775},{"g":45,"x":835,"y":701},{"g":45,"x":946,"y":609},{"g":45,"x":1084,"y":517},{"g":45,"x":1205,"y":444},{"g":46,"x":759,"y":768},{"g":46,"x":863,"y":699},{"g":46,"x":977,"y":612},{"g":46,"x":1115,"y":523},{"g":46,"x":1240,"y":447},{"g":47,"x":788,"y":762},{"g":47,"x":890,"y":696},{"g":47,"x":1007,"y":616},{"g":47,"x":1145,"y":530},{"g":47,"x":1274,"y":450},
{"g":51,"x":817,"y":756},{"g":51,"x":1442,"y":430},{"g":52,"x":817,"y":756},{"g":52,"x":1442,"y":481},{"g":53,"x":817,"y":756},{"g":53,"x":1442,"y":529},{"g":54,"x":817,"y":756},{"g":54,"x":1442,"y":568},{"g":55,"x":817,"y":756},{"g":55,"x":1442,"y":599},{"g":56,"x":817,"y":756},{"g":56,"x":1442,"y":625},{"g":57,"x":817,"y":756},{"g":57,"x":1442,"y":644},{"g":58,"x":817,"y":756},{"g":58,"x":1442,"y":660},
{"g":61,"x":850,"y":736},{"g":61,"x":838,"y":751},{"g":62,"x":882,"y":716},{"g":62,"x":870,"y":742},{"g":63,"x":914,"y":696},{"g":63,"x":902,"y":734},{"g":64,"x":946,"y":676},{"g":64,"x":934,"y":727},{"g":65,"x":978,"y":657},{"g":65,"x":966,"y":722},{"g":66,"x":1010,"y":637},{"g":66,"x":998,"y":717},{"g":67,"x":1042,"y":617},{"g":67,"x":1030,"y":712},{"g":68,"x":1074,"y":597},{"g":68,"x":1062,"y":707},{"g":69,"x":1106,"y":578},{"g":69,"x":1094,"y":702},{"g":70,"x":1138,"y":558},{"g":70,"x":1126,"y":699},{"g":71,"x":1170,"y":538},{"g":71,"x":1158,"y":696},{"g":72,"x":1202,"y":518},{"g":72,"x":1190,"y":693},{"g":73,"x":1234,"y":499},{"g":73,"x":1222,"y":691},{"g":74,"x":1266,"y":479},{"g":74,"x":1254,"y":688},{"g":75,"x":1298,"y":459},{"g":75,"x":1286,"y":686},{"g":76,"x":1330,"y":439},{"g":76,"x":1318,"y":683},{"g":77,"x":1362,"y":420},{"g":77,"x":1350,"y":680},{"g":78,"x":1394,"y":400},{"g":78,"x":1382,"y":678},{"g":79,"x":1420,"y":384},{"g":79,"x":1415,"y":675},
{"g":81,"x":1447,"y":500},{"g":81,"x":1507,"y":503},{"g":82,"x":1447,"y":516},{"g":82,"x":1503,"y":518},{"g":83,"x":1447,"y":532},{"g":83,"x":1500,"y":534},{"g":84,"x":1447,"y":548},{"g":84,"x":1496,"y":550},{"g":85,"x":1447,"y":564},{"g":85,"x":1492,"y":566},{"g":86,"x":1447,"y":580},{"g":86,"x":1488,"y":582},{"g":87,"x":1447,"y":596},{"g":87,"x":1484,"y":598},{"g":88,"x":1447,"y":612},{"g":88,"x":1480,"y":614},{"g":89,"x":1447,"y":628},{"g":89,"x":1476,"y":630},{"g":90,"x":1447,"y":644},{"g":90,"x":1472,"y":646},{"g":91,"x":1447,"y":658},{"g":91,"x":1469,"y":660},{"g":92,"x":1468,"y":485},{"g":92,"x":1452,"y":672},{"g":93,"x":1490,"y":487},{"g":93,"x":1458,"y":672}],
"t4":[{"g":1,"x":285,"y":754},{"g":1,"x":303,"y":743},{"g":2,"x":216,"y":295},{"g":2,"x":160,"y":301},{"g":3,"x":239,"y":441},{"g":3,"x":185,"y":449},{"g":4,"x":260,"y":581},{"g":4,"x":207,"y":590},{"g":5,"x":279,"y":712},{"g":5,"x":229,"y":722},{"g":6,"x":454,"y":794},{"g":6,"x":436,"y":826},{"g":7,"x":659,"y":839},{"g":7,"x":643,"y":874},{"g":8,"x":881,"y":888},{"g":8,"x":868,"y":925},{"g":9,"x":1125,"y":943},{"g":9,"x":1113,"y":982},{"g":10,"x":1389,"y":1000},{"g":10,"x":1383,"y":1044},{"g":11,"x":1511,"y":494},{"g":11,"x":1534,"y":510},{"g":12,"x":1495,"y":561},{"g":12,"x":1522,"y":579},{"g":13,"x":1476,"y":641},{"g":13,"x":1506,"y":663},{"g":14,"x":1453,"y":741},{"g":14,"x":1485,"y":762},{"g":15,"x":1424,"y":862},{"g":15,"x":1461,"y":886}],
"l4":[{"x":105,"y":307,"t":"15"},{"x":131,"y":457,"t":"10"},{"x":155,"y":599,"t":"5"},{"x":178,"y":733,"t":"0"},{"x":417,"y":860,"t":"1"},{"x":626,"y":909,"t":"2"},{"x":852,"y":962,"t":"3"},{"x":1100,"y":1024,"t":"4"},{"x":1375,"y":1087,"t":"5"},{"x":1557,"y":523,"t":"5"},{"x":1545,"y":595,"t":"4"},{"x":1531,"y":679,"t":"3"},{"x":1516,"y":782,"t":"2"},{"x":1495,"y":910,"t":"1"}],
"n4":[{"x":56,"y":544,"t":"Kurtosis","a":80},{"x":829,"y":1025,"t":"c","a":12},{"x":1580,"y":707,"t":"θ","a":100}]
},
"vconcat":[
{"hconcat":[
{"vconcat":[
{"width":1770,"height":1210,"encoding":{"x":{"field":"x","type":"quantitative","axis":null,"scale":{"domain":[0,1770],"nice":false,"zero":false}},"y":{"field":"y","type":"quantitative","axis":null,"scale":{"domain":[1210,0],"nice":false,"zero":false}},"detail":{"field":"g"},"order":{"value":null}},
"layer":[
{"data":{"name":"box"},"mark":{"type":"line","stroke":"black","strokeWidth":3}},
{"data":{"name":"t1"},"mark":{"type":"line","stroke":"black","strokeWidth":3}},
{"data":{"name":"s1"},"mark":{"type":"line","fill":"#000080","stroke":"#000080","strokeWidth":1}},
{"data":{"name":"m1"},"mark":{"type":"line","stroke":"white","strokeWidth":3}},
{"data":{"name":"m1"},"transform":[{"filter":"datum.g>=71||(datum.g>=41&&datum.g<=48)"}],"mark":{"type":"line","stroke":"white","strokeWidth":5}},
{"data":{"name":"g1"},"mark":{"type":"line","fill":"white","stroke":"white","strokeWidth":1}},
{"data":{"name":"dot"},"mark":{"type":"line","stroke":"black","strokeWidth":3,"strokeDash":[4,6]}},
{"data":{"name":"l1"},"mark":{"type":"text"},"encoding":{"detail":null,"text":{"field":"t"}}},
{"data":{"name":"n1"},"mark":{"type":"text"},"encoding":{"detail":null,"text":{"field":"t"},"angle":{"field":"a","type":"quantitative","scale":null}}}
]},
{"width":1770,"height":63,"data":{"values":[{"lo":-0.0014,"hi":0.2349,"a":0,"b":0.2}]},"layer":[
{"mark":{"type":"rect","fill":"#000080","stroke":"black","strokeWidth":2},"encoding":{"x":{"field":"lo","type":"quantitative","scale":{"domain":[-0.04173,0.2766],"nice":false,"zero":false},"axis":{"values":[0,0.05,0.1,0.15,0.2],"format":".2f"}},"x2":{"field":"hi"}}},
{"mark":{"type":"rule","stroke":"black","strokeWidth":4},"encoding":{"x":{"field":"a","type":"quantitative"},"x2":{"field":"b"},"y":{"datum":0,"type":"quantitative","scale":{"domain":[0,1]},"axis":null}}}
]}
]},
{"vconcat":[
{"width":1771,"height":1210,"encoding":{"x":{"field":"x","type":"quantitative","axis":null,"scale":{"domain":[-147,1624],"nice":false,"zero":false}},"y":{"field":"y","type":"quantitative","axis":null,"scale":{"domain":[1210,0],"nice":false,"zero":false}},"detail":{"field":"g"},"order":{"value":null}},
"layer":[
{"data":{"name":"box"},"mark":{"type":"line","stroke":"black","strokeWidth":3}},
{"data":{"name":"t2"},"mark":{"type":"line","stroke":"black","strokeWidth":3}},
{"data":{"name":"s2"},"mark":{"type":"line","fill":"#000080","stroke":"#000080","strokeWidth":1}},
{"data":{"name":"m2"},"mark":{"type":"line","stroke":"white","strokeWidth":4}},
{"data":{"name":"m2"},"transform":[{"filter":"datum.g>=109"}],"mark":{"type":"line","stroke":"white","strokeWidth":7}},
{"data":{"name":"g2"},"mark":{"type":"line","fill":"white","stroke":"white","strokeWidth":1}},
{"data":{"name":"dot"},"mark":{"type":"line","stroke":"black","strokeWidth":3,"strokeDash":[4,6]}},
{"data":{"name":"l2"},"mark":{"type":"text"},"encoding":{"detail":null,"text":{"field":"t"}}},
{"data":{"name":"n2"},"mark":{"type":"text"},"encoding":{"detail":null,"text":{"field":"t"},"angle":{"field":"a","type":"quantitative","scale":null}}}
]},
{"width":1771,"height":63,"data":{"values":[{"lo":-0.0063,"hi":0.5444,"a":0,"b":0.5}]},"layer":[
{"mark":{"type":"rect","fill":"#000080","stroke":"black","strokeWidth":2},"encoding":{"x":{"field":"lo","type":"quantitative","scale":{"domain":[-0.1609,0.5813],"nice":false,"zero":false},"axis":{"values":[0,0.1,0.2,0.3,0.4,0.5],"format":".1f"}},"x2":{"field":"hi"}}},
{"mark":{"type":"rule","stroke":"black","strokeWidth":4},"encoding":{"x":{"field":"a","type":"quantitative"},"x2":{"field":"b"},"y":{"datum":0,"type":"quantitative","scale":{"domain":[0,1]},"axis":null}}}
]}
]}
]},
{"hconcat":[
{"vconcat":[
{"width":1770,"height":1210,"encoding":{"x":{"field":"x","type":"quantitative","axis":null,"scale":{"domain":[0,1770],"nice":false,"zero":false}},"y":{"field":"y","type":"quantitative","axis":null,"scale":{"domain":[1210,0],"nice":false,"zero":false}},"detail":{"field":"g"},"order":{"value":null}},
"layer":[
{"data":{"name":"box"},"mark":{"type":"line","stroke":"black","strokeWidth":3}},
{"data":{"name":"t3"},"mark":{"type":"line","stroke":"black","strokeWidth":3}},
{"data":{"name":"s3"},"mark":{"type":"line","fill":"#000080","stroke":"#000080","strokeWidth":1}},
{"data":{"name":"m3"},"mark":{"type":"line","stroke":"white","strokeWidth":4}},
{"data":{"name":"dot"},"mark":{"type":"line","stroke":"black","strokeWidth":3,"strokeDash":[4,6]}},
{"data":{"name":"l3"},"mark":{"type":"text"},"encoding":{"detail":null,"text":{"field":"t"}}},
{"data":{"name":"n3"},"mark":{"type":"text"},"encoding":{"detail":null,"text":{"field":"t"},"angle":{"field":"a","type":"quantitative","scale":null}}}
]},
{"width":1770,"height":63,"data":{"values":[{"lo":-1.349,"hi":3.391,"a":-1,"b":3}]},"layer":[
{"mark":{"type":"rect","fill":"#000080","stroke":"black","strokeWidth":2},"encoding":{"x":{"field":"lo","type":"quantitative","scale":{"domain":[-2.157,4.228],"nice":false,"zero":false},"axis":{"values":[-1,0,1,2,3],"labelExpr":"''+datum.value"}},"x2":{"field":"hi"}}},
{"mark":{"type":"rule","stroke":"black","strokeWidth":4},"encoding":{"x":{"field":"a","type":"quantitative"},"x2":{"field":"b"},"y":{"datum":0,"type":"quantitative","scale":{"domain":[0,1]},"axis":null}}}
]}
]},
{"vconcat":[
{"width":1771,"height":1210,"encoding":{"x":{"field":"x","type":"quantitative","axis":null,"scale":{"domain":[-147,1624],"nice":false,"zero":false}},"y":{"field":"y","type":"quantitative","axis":null,"scale":{"domain":[1210,0],"nice":false,"zero":false}},"detail":{"field":"g"},"order":{"value":null}},
"layer":[
{"data":{"name":"box"},"mark":{"type":"line","stroke":"black","strokeWidth":3}},
{"data":{"name":"t4"},"mark":{"type":"line","stroke":"black","strokeWidth":3}},
{"data":{"name":"s4"},"mark":{"type":"line","fill":"#000080","stroke":"#000080","strokeWidth":1}},
{"data":{"name":"m4"},"mark":{"type":"line","stroke":"white","strokeWidth":3}},
{"data":{"name":"m4"},"transform":[{"filter":"datum.g<50||datum.g>80"}],"mark":{"type":"line","stroke":"white","strokeWidth":6}},
{"data":{"name":"g4"},"mark":{"type":"line","fill":"white","stroke":"white","strokeWidth":1}},
{"data":{"name":"d4"},"mark":{"type":"line","fill":"#000080","stroke":"#000080","strokeWidth":1}},
{"data":{"name":"dot"},"mark":{"type":"line","stroke":"black","strokeWidth":3,"strokeDash":[4,6]}},
{"data":{"name":"l4"},"mark":{"type":"text"},"encoding":{"detail":null,"text":{"field":"t"}}},
{"data":{"name":"n4"},"mark":{"type":"text"},"encoding":{"detail":null,"text":{"field":"t"},"angle":{"field":"a","type":"quantitative","scale":null}}}
]},
{"width":1771,"height":63,"data":{"values":[{"lo":-1.851,"hi":17.45,"a":0,"b":15}]},"layer":[
{"mark":{"type":"rect","fill":"#000080","stroke":"black","strokeWidth":2},"encoding":{"x":{"field":"lo","type":"quantitative","scale":{"domain":[-7.272,18.745],"nice":false,"zero":false},"axis":{"values":[0,5,10,15],"format":"d"}},"x2":{"field":"hi"}}},
{"mark":{"type":"rule","stroke":"black","strokeWidth":4},"encoding":{"x":{"field":"a","type":"quantitative"},"x2":{"field":"b"},"y":{"datum":0,"type":"quantitative","scale":{"domain":[0,1]},"axis":null}}}
]}
]}
]}
]}
